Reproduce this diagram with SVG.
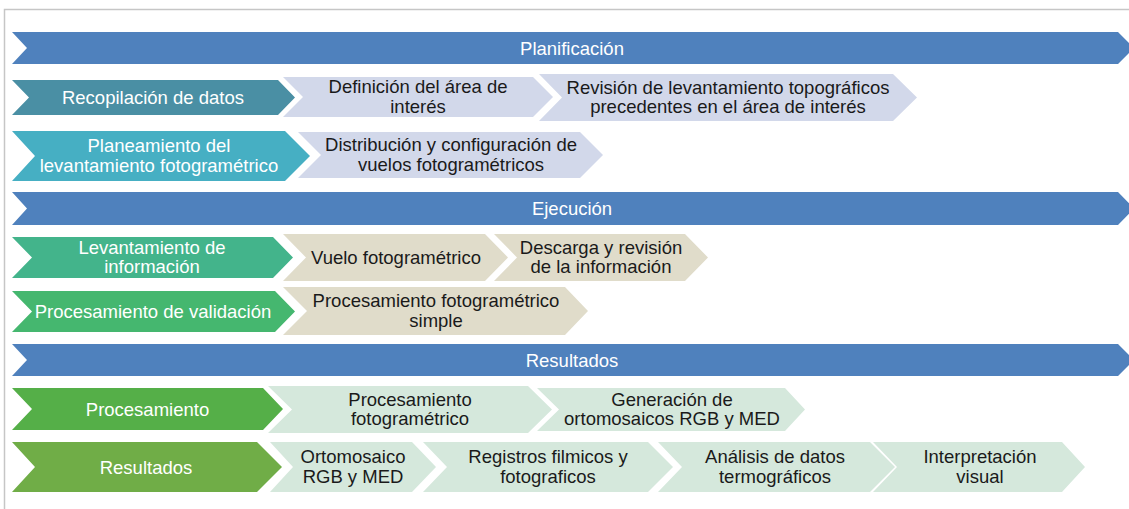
<svg xmlns="http://www.w3.org/2000/svg" width="1129" height="509" viewBox="0 0 1129 509">
<style>
text{font-family:"Liberation Sans",Arial,sans-serif;font-size:18.5px;text-anchor:middle}
.w{fill:#ffffff}
.k{fill:#1a1a1a}
.bar{fill:#4F81BD}
.lav{fill:#D2D8EA}
.beige{fill:#E0DCCA}
.lg{fill:#D5E8DC}
</style>
<rect width="1129" height="509" fill="#ffffff"/>
<path d="M4.5,509 V9.5 H1129" fill="none" stroke="#C6C6C6" stroke-width="1.5"/>
<g id="connectors"></g>

<g id="planificacion">
<polygon class="bar" points="12,32 1118,32 1134,48 1118,64 12,64 27,48"/>
<text class="w" x="572" y="54.5">Planificación</text>
</g>
<g id="recopilacion">
<polygon fill="#4A8FA4" points="12,80 278,80 295,97.5 278,115 12,115 29,97.5"/>
<text class="w" x="153" y="104">Recopilación de datos</text>
</g>
<g id="definicion">
<polygon class="lav" points="283,77 533,77 553,97 533,117 283,117 303,97"/>
<text class="k" x="418" y="93.3">Definición del área de</text>
<text class="k" x="418" y="112.8">interés</text>
</g>
<g id="revision">
<polygon class="lav" points="539,74 893,74 917,97.5 893,121 539,121 562,97.5"/>
<text class="k" x="728" y="93.8">Revisión de levantamiento topográficos</text>
<text class="k" x="728" y="113.3">precedentes en el área de interés</text>
</g>
<g id="planeamiento">
<polygon fill="#46AFC3" points="12,131 285,131 310,156 285,181 12,181 35,156"/>
<text class="w" x="159" y="152.3">Planeamiento del</text>
<text class="w" x="159" y="171.8">levantamiento fotogramétrico</text>
</g>
<g id="distribucion">
<polygon class="lav" points="298,132 580,132 603,155 580,178 298,178 321,155"/>
<text class="k" x="451" y="151.3">Distribución y configuración de</text>
<text class="k" x="451" y="170.8">vuelos fotogramétricos</text>
</g>

<g id="ejecucion">
<polygon class="bar" points="12,192 1118,192 1134,208.5 1118,225 12,225 27,208.5"/>
<text class="w" x="572" y="215">Ejecución</text>
</g>
<g id="levantamiento">
<polygon fill="#43B48B" points="12,237 273,237 293,257.5 273,278 12,278 32,257.5"/>
<text class="w" x="152" y="253.8">Levantamiento de</text>
<text class="w" x="152" y="273.3">información</text>
</g>
<g id="vuelo">
<polygon class="beige" points="283,234 485,234 508,257.5 485,281 283,281 306,257.5"/>
<text class="k" x="396" y="264">Vuelo fotogramétrico</text>
</g>
<g id="descarga">
<polygon class="beige" points="494,234 685,234 708,257.5 685,281 494,281 517,257.5"/>
<text class="k" x="601" y="253.8">Descarga y revisión</text>
<text class="k" x="601" y="273.3">de la información</text>
</g>
<g id="validacion">
<polygon fill="#45B76F" points="12,291 275,291 295,311.5 275,332 12,332 32,311.5"/>
<text class="w" x="153" y="318">Procesamiento de validación</text>
</g>
<g id="simple">
<polygon class="beige" points="283,287 565,287 588,311 565,335 283,335 307,311"/>
<text class="k" x="436" y="307.3">Procesamiento fotogramétrico</text>
<text class="k" x="436" y="326.8">simple</text>
</g>

<g id="resultados-bar">
<polygon class="bar" points="12,344 1118,344 1134,360 1118,376 12,376 27,360"/>
<text class="w" x="572" y="366.5">Resultados</text>
</g>
<g id="procesamiento">
<polygon fill="#55AF48" points="12,388 263,388 283,409 263,430 12,430 32,409"/>
<text class="w" x="147.5" y="415.5">Procesamiento</text>
</g>
<g id="proc-foto">
<polygon class="lg" points="268,386 528,386 552,409.5 528,433 268,433 292,409.5"/>
<text class="k" x="410" y="405.8">Procesamiento</text>
<text class="k" x="410" y="425.3">fotogramétrico</text>
</g>
<g id="generacion">
<polygon class="lg" points="537,388 785,388 805,409.5 785,431 537,431 559,409.5"/>
<text class="k" x="672" y="405.8">Generación de</text>
<text class="k" x="672" y="425.3">ortomosaicos RGB y MED</text>
</g>
<g id="resultados">
<polygon fill="#70AD47" points="12,442 257,442 282,467 257,492 12,492 35,467"/>
<text class="w" x="146" y="473.5">Resultados</text>
</g>
<g id="ortomosaico">
<polygon class="lg" points="270,442 412,442 436,467 412,492 270,492 293,467"/>
<text class="k" x="353" y="463.3">Ortomosaico</text>
<text class="k" x="353" y="482.8">RGB y MED</text>
</g>
<g id="registros">
<polygon class="lg" points="423,442 648,442 673,467 648,492 423,492 447,467"/>
<text class="k" x="548" y="463.3">Registros filmicos y</text>
<text class="k" x="548" y="482.8">fotograficos</text>
</g>
<g id="analisis">
<polygon class="lg" points="658,442 870,442 895,467 870,492 658,492 682,467"/>
<text class="k" x="775" y="463.3">Análisis de datos</text>
<text class="k" x="775" y="482.8">termográficos</text>
</g>
<g id="interpretacion">
<polygon class="lg" points="873,442 1062,442 1085,467 1062,492 873,492 897,467"/>
<text class="k" x="980" y="463.3">Interpretación</text>
<text class="k" x="980" y="482.8">visual</text>
</g>
</svg>
